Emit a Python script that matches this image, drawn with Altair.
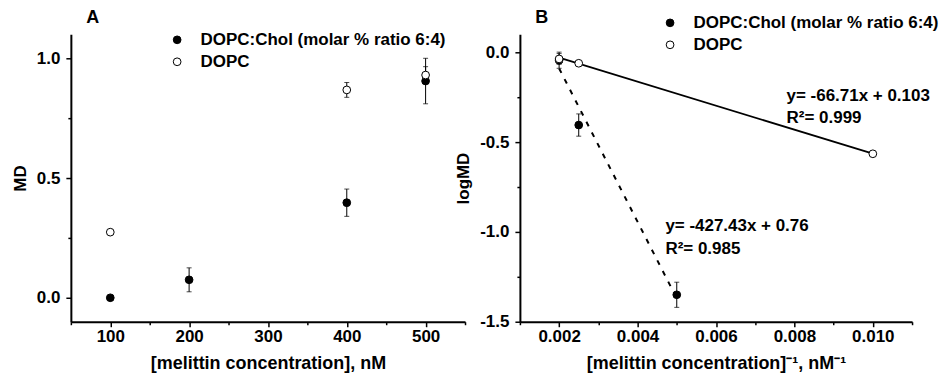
import altair as alt
import pandas as pd

FONT = "Liberation Sans"

# ---------- Panel A data ----------
series_names = ["DOPC:Chol (molar % ratio 6:4)", "DOPC"]
conc_chol = [100, 200, 400, 500]
md_chol = [0.0, 0.075, 0.397, 0.905]
md_chol_err = [0.0, 0.05, 0.057, 0.095]
conc_dopc = [100, 400, 500]
md_dopc = [0.274, 0.868, 0.930]
md_dopc_err = [0.01, 0.031, 0.035]

# ---------- Panel B data ----------
inv_chol = [0.002, 0.0025, 0.005]
log_chol = [-0.044, -0.405, -1.350]
log_chol_err = [0.045, 0.062, 0.07]
inv_dopc = [0.002, 0.0025, 0.010]
log_dopc = [-0.037, -0.061, -0.565]
log_dopc_err = [0.03, 0.006, 0.006]

fit_dopc_x = [0.002, 0.010]
fit_dopc_y = [-0.030, -0.564]
fit_chol_x = [0.002, 0.005]
fit_chol_y = [-0.090, -1.370]

ann_text = ["y= -66.71x + 0.103", "R²= 0.999", "y= -427.43x + 0.76", "R²= 0.985"]
ann_x = [0.0078, 0.0078, 0.00471, 0.00471]
ann_y = [-0.272, -0.392, -0.994, -1.125]

def make_df(xs, ys, es, name):
    return pd.DataFrame({
        "x": xs, "y": ys,
        "lo": [y - e for y, e in zip(ys, es)],
        "hi": [y + e for y, e in zip(ys, es)],
        "series": [name] * len(xs),
    })

dfA = pd.concat([make_df(conc_chol, md_chol, md_chol_err, series_names[0]),
                 make_df(conc_dopc, md_dopc, md_dopc_err, series_names[1])])
dfB = pd.concat([make_df(inv_chol, log_chol, log_chol_err, series_names[0]),
                 make_df(inv_dopc, log_dopc, log_dopc_err, series_names[1])])

fitB = pd.concat([
    pd.DataFrame({"x": fit_chol_x, "y": fit_chol_y, "series": series_names[0]}),
    pd.DataFrame({"x": fit_dopc_x, "y": fit_dopc_y, "series": series_names[1]}),
])
annB = pd.DataFrame({"x": ann_x, "y": ann_y, "t": ann_text})

label_expr1 = "replace(format(datum.value, '.1f'), '\u2212', '-')"


def panel(df, xdom, ydom, xmaj, xmin, ymaj, ymin, xtitle, ytitle, xfmt, letter,
          legx, legy, width, height, extra=None):
    xs = alt.Scale(domain=xdom, nice=False, zero=False)
    ys = alt.Scale(domain=ydom, nice=False, zero=False)

    rules = alt.Chart(df).mark_rule(color="black", strokeWidth=1).encode(
        x=alt.X("x:Q", scale=xs, axis=alt.Axis(values=xmin, labels=False, domain=False,
                                                tickSize=3, title=None, orient="bottom")),
        y=alt.Y("lo:Q", scale=ys, axis=alt.Axis(values=ymin, labels=False, domain=False,
                                                 tickSize=3, title=None, orient="left")),
        y2="hi:Q",
    )
    cap_lo = alt.Chart(df).mark_tick(orient="horizontal", size=5, thickness=1, color="black").encode(
        x=alt.X("x:Q", scale=xs, axis=None), y=alt.Y("lo:Q", scale=ys, axis=None))
    cap_hi = alt.Chart(df).mark_tick(orient="horizontal", size=5, thickness=1, color="black").encode(
        x=alt.X("x:Q", scale=xs, axis=None), y=alt.Y("hi:Q", scale=ys, axis=None))

    pts = alt.Chart(df).mark_point(filled=True, size=60, stroke="black", strokeWidth=1,
                                   opacity=1, shape="circle").encode(
        x=alt.X("x:Q", scale=xs, axis=alt.Axis(values=xmaj, format=xfmt, title=xtitle,
                                                tickSize=5, orient="bottom",
                                                labelPadding=2, titlePadding=10,
                                                titleFontSize=18)),
        y=alt.Y("y:Q", scale=ys, axis=alt.Axis(values=ymaj, labelExpr=label_expr1, title=ytitle,
                                                tickSize=5, orient="left",
                                                labelPadding=6, titlePadding=7,
                                                titleFontSize=17)),
        fill=alt.Fill("series:N",
                      scale=alt.Scale(domain=series_names, range=["black", "white"]),
                      legend=alt.Legend(title=None, orient="none", legendX=legx, legendY=legy,
                                        labelFontSize=17, labelFont=FONT, labelFontWeight="bold",
                                        labelColor="black", labelLimit=400,
                                        symbolType="circle", symbolSize=60,
                                        symbolStrokeColor="black", symbolStrokeWidth=1,
                                        labelOffset=15, rowPadding=4, padding=0)),
    )
    letter_df = pd.DataFrame({"t": [letter]})
    let = alt.Chart(letter_df).mark_text(fontSize=18, fontWeight="bold", font=FONT,
                                         align="center", baseline="alphabetic",
                                         color="black").encode(
        text="t:N", x=alt.value(22), y=alt.value(-11))

    layers = [rules, cap_lo, cap_hi]
    if extra is not None:
        layers += extra(xs, ys)
    layers += [pts, let]
    return alt.layer(*layers).resolve_axis(x="independent", y="independent").properties(
        width=width, height=height)


def extraB(xs, ys):
    solid = alt.Chart(fitB[fitB.series == series_names[1]]).mark_line(
        color="black", strokeWidth=1.8).encode(
        x=alt.X("x:Q", scale=xs, axis=None), y=alt.Y("y:Q", scale=ys, axis=None))
    dashed = alt.Chart(fitB[fitB.series == series_names[0]]).mark_line(
        color="black", strokeWidth=2, strokeDash=[5, 7]).encode(
        x=alt.X("x:Q", scale=xs, axis=None), y=alt.Y("y:Q", scale=ys, axis=None))
    txt = alt.Chart(annB).mark_text(fontSize=17, fontWeight="bold", font=FONT, align="left",
                                    baseline="alphabetic", color="black").encode(
        x=alt.X("x:Q", scale=xs, axis=None), y=alt.Y("y:Q", scale=ys, axis=None), text="t:N")
    return [solid, dashed, txt]


A = panel(dfA, [50, 550], [-0.1, 1.1], [100, 200, 300, 400, 500],
          [50, 150, 250, 350, 450, 550], [0.0, 0.5, 1.0], [0.25, 0.75],
          "[melittin concentration], nM", "MD", "d", "A", 98, -3, 395, 288)
B = panel(dfB, [0.001, 0.011], [-1.5, 0.1], [0.002, 0.004, 0.006, 0.008, 0.010],
          [0.001, 0.003, 0.005, 0.007, 0.009, 0.011], [-1.5, -1.0, -0.5, 0.0],
          [-1.25, -0.75, -0.25], "[melittin concentration]⁻¹, nM⁻¹", "logMD", ".3f", "B",
          142, -20, 393, 288, extra=extraB)

chart = alt.hconcat(A, B, spacing=55, bounds="flush").resolve_scale(
    x="independent", y="independent", fill="independent"
).resolve_legend(fill="independent").properties(
    padding={"left": 3, "top": 1, "right": 0, "bottom": 5}
).configure_view(stroke=None).configure_axis(
    grid=False, domainColor="black", domainWidth=2, tickColor="black", tickWidth=1.5,
    labelFont=FONT, labelFontSize=17, labelFontWeight="bold", labelColor="black",
    titleFont=FONT, titleFontSize=18, titleFontWeight="bold", titleColor="black",
)

chart.save("out.html", embed_options={"renderer": "svg", "actions": False})
